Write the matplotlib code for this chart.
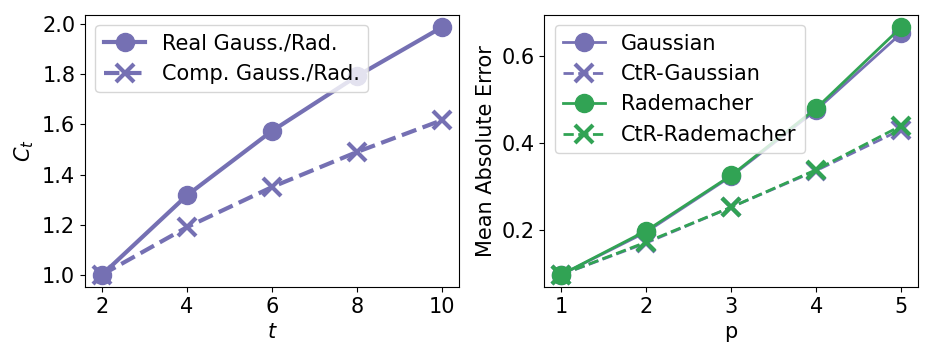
import numpy as np
import matplotlib.pyplot as plt

t = [2, 4, 6, 8, 10]
real_ct = [1.0, 1.317, 1.574, 1.793, 1.988]
comp_ct = [1.0, 1.19, 1.35, 1.49, 1.617]

p = [1, 2, 3, 4, 5]
gauss = [0.097, 0.195, 0.323, 0.475, 0.651]
ctr_gauss = [0.097, 0.17, 0.252, 0.336, 0.43]
radem = [0.097, 0.198, 0.325, 0.479, 0.665]
ctr_radem = [0.097, 0.172, 0.252, 0.338, 0.439]

purple = "#7570b3"
green = "#31a354"

plt.rcParams["font.size"] = 15

fig, (ax1, ax2) = plt.subplots(1, 2, figsize=(9.34, 3.63), dpi=100)

ax1.plot(t, real_ct, "-o", color=purple, lw=3, ms=13, label="Real Gauss./Rad.")
ax1.plot(t, comp_ct, "--x", color=purple, lw=3, ms=13, mew=3, label="Comp. Gauss./Rad.")
ax1.set_xlabel("$t$")
ax1.set_ylabel("$C_t$")
ax1.set_xticks(t)
ax1.legend(loc="upper left")

ax2.plot(p, gauss, "-o", color=purple, lw=2, ms=13, label="Gaussian")
ax2.plot(p, ctr_gauss, "--x", color=purple, lw=2, ms=13, mew=3, label="CtR-Gaussian")
ax2.plot(p, radem, "-o", color=green, lw=2, ms=13, label="Rademacher")
ax2.plot(p, ctr_radem, "--x", color=green, lw=2, ms=13, mew=3, label="CtR-Rademacher")
ax2.set_xlabel("p")
ax2.set_ylabel("Mean Absolute Error")
ax2.set_xticks(p)
ax2.set_yticks([0.2, 0.4, 0.6])
ax2.legend(loc="upper left")

plt.subplots_adjust(left=0.091, right=0.983, top=0.959, bottom=0.209, wspace=0.228)
plt.savefig("out.png")
